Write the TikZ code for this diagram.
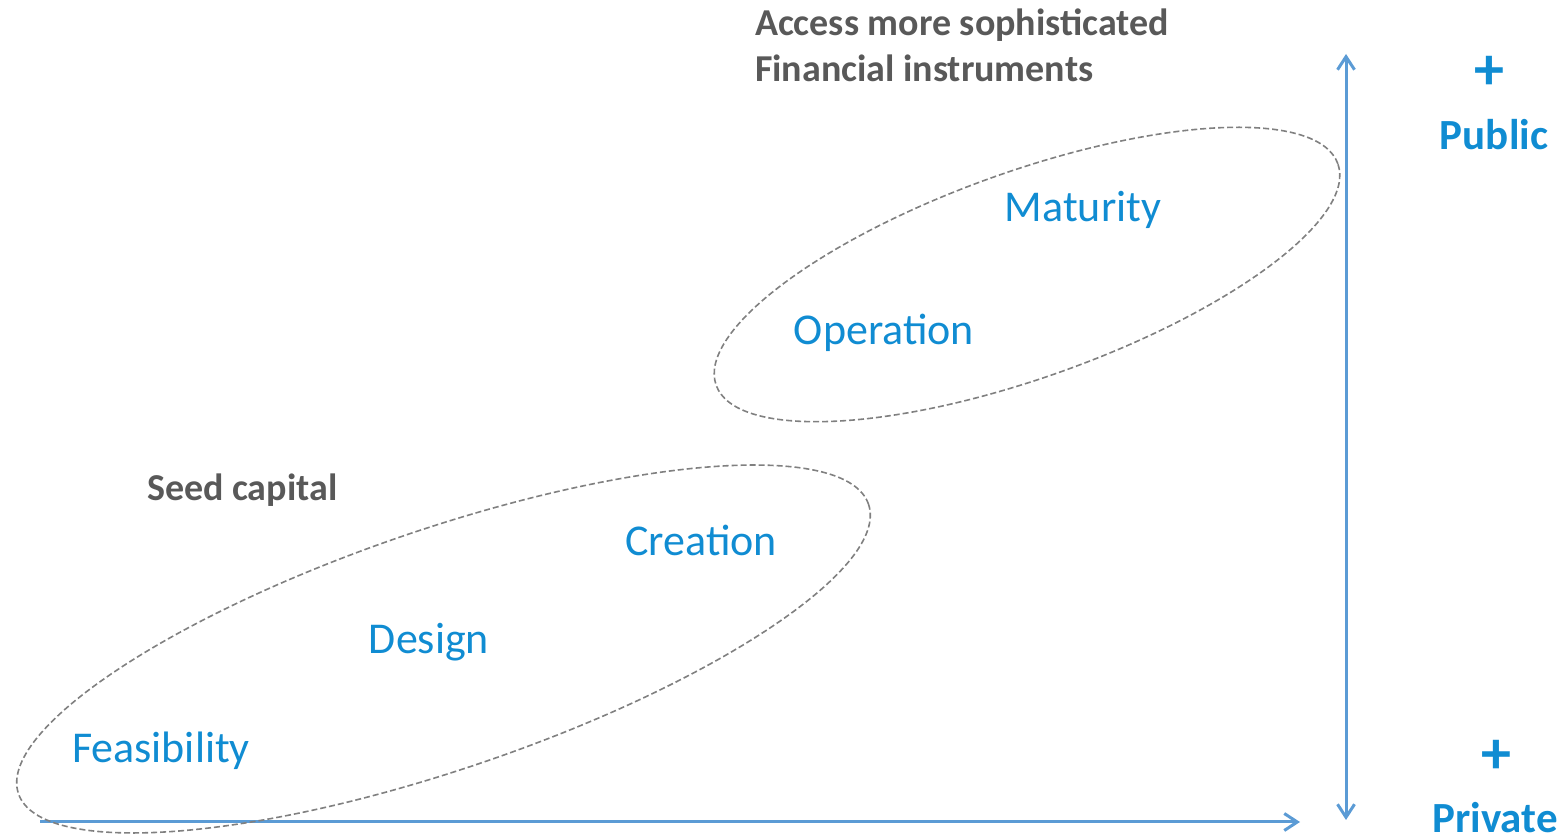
\documentclass[tikz,border=0pt]{standalone}
\usepackage{fontspec}
\setmainfont{Carlito}
\usetikzlibrary{arrows.meta, positioning}
\definecolor{stageblue}{RGB}{16, 140, 210}
\definecolor{axisblue}{RGB}{91, 155, 213}
\definecolor{notegray}{RGB}{89, 89, 89}

\begin{document}
\begin{tikzpicture}[x=0.5pt, y=0.5pt,
        >={Straight Barb[length=6.5pt, width=8.5pt]},
        stage/.style={text=stageblue, font=\fontsize{22}{26}\selectfont},
        note/.style={text=notegray, font=\fontsize{19}{23}\selectfont\bfseries, align=left, anchor=west},
        sign/.style={text=stageblue, font=\fontsize{21.5}{25}\selectfont\bfseries},
        axis/.style={draw=axisblue, line width=1.5pt},
        group/.style={draw=gray, line width=0.8pt, dash pattern=on 3pt off 1.5pt}]
        \useasboundingbox (0,0) rectangle (1562,839);

        % axes
        \coordinate (X0) at (40,17); \coordinate (X1) at (1300,17);
        \coordinate (Y0) at (1346,19); \coordinate (Y1) at (1346,785);
        \draw [axis, ->] (X0) -- (X1);
        \draw [axis, <->] (Y0) -- (Y1);

        % groups
        \coordinate (early) at (443.5,190);
        \coordinate (late) at (1027,564.5);
        \draw [group, rotate around={18.8:(early)}] (early) ellipse [x radius=449, y radius=120];
        \draw [group, rotate around={19.6:(late)}] (late) ellipse [x radius=330, y radius=103];

        % stages
        \node [stage] (feas) at (161,88) {Feasibility};
        \node [stage] (design) at (429,197) {Design};
        \node [stage] (create) at (701,299) {Creation};
        \node [stage] (oper) at (884,506) {Operation};
        \node [stage] (matur) at (1083,629) {Maturity};

        % notes
        \node [note] (seed) at (140,349) {Seed capital};
        \node [note] (access) at (748,794) {Access more sophisticated\\Financial instruments};

        % axis ends
        \node [sign, font=\fontsize{30}{30}\selectfont\bfseries] (pplus) at (1489,766) {+};
        \node [sign] (public) at (1494,704) {Public};
        \node [sign, font=\fontsize{30}{30}\selectfont\bfseries] (qplus) at (1496,82) {+};
        \node [sign, anchor=base, inner sep=0pt] (private) at (1495,6) {Private};
\end{tikzpicture}
\end{document}
